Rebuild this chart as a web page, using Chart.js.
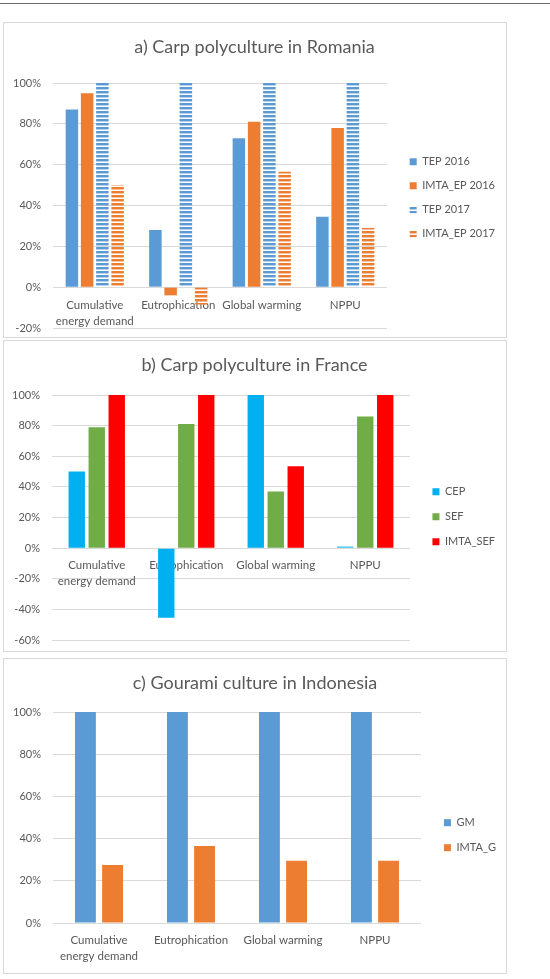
<!DOCTYPE html>
<html>
<head>
<meta charset="utf-8">
<script src="https://cdn.jsdelivr.net/npm/chart.js@4.4.1/dist/chart.umd.min.js"></script>
<style>
  body { margin: 0; background: #fff; width: 550px; height: 979px; position: relative; overflow: hidden; }
  .rule { position: absolute; left: 0; top: 3px; width: 550px; height: 1px; background: #6b6b6b; }
  .panel { position: absolute; left: 3px; width: 504px; border: 1px solid #d9d9d9; box-sizing: border-box; background: #fff; }
  .panel canvas { display: block; }
</style>
</head>
<body>
<div class="rule"></div>
<div class="panel" style="top:22px;height:316px"><canvas id="chartA" width="502" height="314"></canvas></div>
<div class="panel" style="top:340px;height:312px"><canvas id="chartB" width="502" height="310"></canvas></div>
<div class="panel" style="top:658px;height:316px"><canvas id="chartC" width="502" height="314"></canvas></div>
<script>
const categories = [["Cumulative", "energy demand"], "Eutrophication", "Global warming", "NPPU"];

// a) Romania
const tep2016 = [87, 28, 73, 34.5];
const imtaEp2016 = [95, -4, 81, 78];
const tep2017 = [100, 100, 100, 100];
const imtaEp2017 = [50, -8.5, 56.5, 29];

// b) France
const cep = [50, -45.5, 100, 1];
const sef = [79, 81, 37, 86];
const imtaSef = [100, 100, 53.5, 100];

// c) Indonesia
const gm = [100, 100, 100, 100];
const imtaG = [27.5, 36.5, 29.5, 29.5];

const blue = "#5B9BD5";
const orange = "#ED7D31";
const textColor = "#595959";
const gridColor = "#d9d9d9";
const font = { family: "Lato", size: 11 };

// horizontal stripes like the excel pattern fill
function stripes(color) {
  const c = document.createElement("canvas");
  c.width = 4;
  c.height = 4;
  const ctx = c.getContext("2d");
  ctx.fillStyle = color;
  ctx.fillRect(0, 0, 4, 2);
  ctx.globalAlpha = 0.45;
  ctx.fillRect(0, 2, 4, 1);
  return ctx.createPattern(c, "repeat");
}

function bar(label, data, color, cat, barPct) {
  return {
    label: label,
    data: data,
    backgroundColor: color,
    borderWidth: 0,
    categoryPercentage: cat,
    barPercentage: barPct,
  };
}

// width the legend box will take (same sum chart.js does)
function legendWidth(datasets, pad) {
  const ctx = document.createElement("canvas").getContext("2d");
  ctx.font = "11px Lato";
  const w = Math.max(...datasets.map((d) => ctx.measureText(d.label).width));
  return pad + 7 + 5.5 + w + 10;
}

function makeChart(id, title, datasets, o) {
  const canvas = document.getElementById(id);
  const gapW = Math.max(0, canvas.width - o.padRight - legendWidth(datasets, o.legendPad) - o.right);
  const xScale = {
    z: 1,
    grid: { display: false, drawTicks: false },
    border: { display: false },
    ticks: { color: textColor, font: { family: "Lato", size: 11.5, lineHeight: 1.4 }, padding: o.xPad, maxRotation: 0, autoSkip: false },
  };
  if (o.xAtZero) {
    xScale.position = { y: 0 };
  } else {
    xScale.position = "bottom";
    xScale.afterFit = (s) => { s.height = o.xHeight; };
  }
  return new Chart(canvas, {
    type: "bar",
    data: { labels: categories, datasets: datasets },
    options: {
      responsive: false,
      animation: false,
      layout: { padding: { top: 0, left: 0, right: o.padRight, bottom: o.padBottom } },
      plugins: {
        title: {
          display: true,
          text: title,
          color: textColor,
          font: { family: "Lato", size: 18, weight: "normal" },
          padding: { top: 13, bottom: o.titleGap },
        },
        legend: {
          position: "right",
          fullSize: false,
          align: "start",
          maxWidth: 200,
          title: { display: true, text: " ", font: { size: 1 }, padding: { top: o.legendTop, bottom: 0 } },
          labels: { boxWidth: 7, boxHeight: 7, padding: o.legendPad, color: textColor, font: font },
        },
        tooltip: { enabled: false },
      },
      scales: {
        x: xScale,
        y: {
          min: o.yMin,
          max: 100,
          ticks: { stepSize: 20, callback: (v) => v + "%", padding: 0, color: textColor, font: font },
          grid: { color: gridColor, drawTicks: true, tickLength: 12, tickColor: "rgba(0,0,0,0)" },
          border: { display: false },
          afterFit: (s) => { s.width = o.left; },
        },
        gap: {
          position: "right",
          grid: { display: false },
          border: { display: false },
          ticks: { display: false },
          afterFit: (s) => { s.width = gapW; },
        },
      },
    },
  });
}

makeChart("chartA", "a) Carp polyculture in Romania", [
  bar("TEP 2016", tep2016, blue, 0.73, 0.82),
  bar("IMTA_EP 2016", imtaEp2016, orange, 0.73, 0.82),
  bar("TEP 2017", tep2017, stripes(blue), 0.73, 0.82),
  bar("IMTA_EP 2017", imtaEp2017, stripes(orange), 0.73, 0.82),
], { yMin: -20, left: 49, right: 383, padRight: 1, padBottom: 9, titleGap: 25.4, xAtZero: true, xPad: 10, legendPad: 13, legendTop: 59 });

makeChart("chartB", "b) Carp polyculture in France", [
  bar("CEP", cep, "#00B0F0", 0.67, 0.82),
  bar("SEF", sef, "#70AD47", 0.67, 0.82),
  bar("IMTA_SEF", imtaSef, "#FF0000", 0.67, 0.82),
], { yMin: -60, left: 48, right: 406, padRight: 1, padBottom: 11, titleGap: 19.4, xAtZero: true, xPad: 9, legendPad: 14, legendTop: 76 });

makeChart("chartC", "c) Gourami culture in Indonesia", [
  bar("GM", gm, blue, 0.59, 0.77),
  bar("IMTA_G", imtaG, orange, 0.59, 0.77),
], { yMin: 0, left: 49, right: 417, padRight: 0, padBottom: 0, titleGap: 18.4, xAtZero: false, xHeight: 50, xPad: 9, legendPad: 14, legendTop: 90 });
</script>
</body>
</html>
